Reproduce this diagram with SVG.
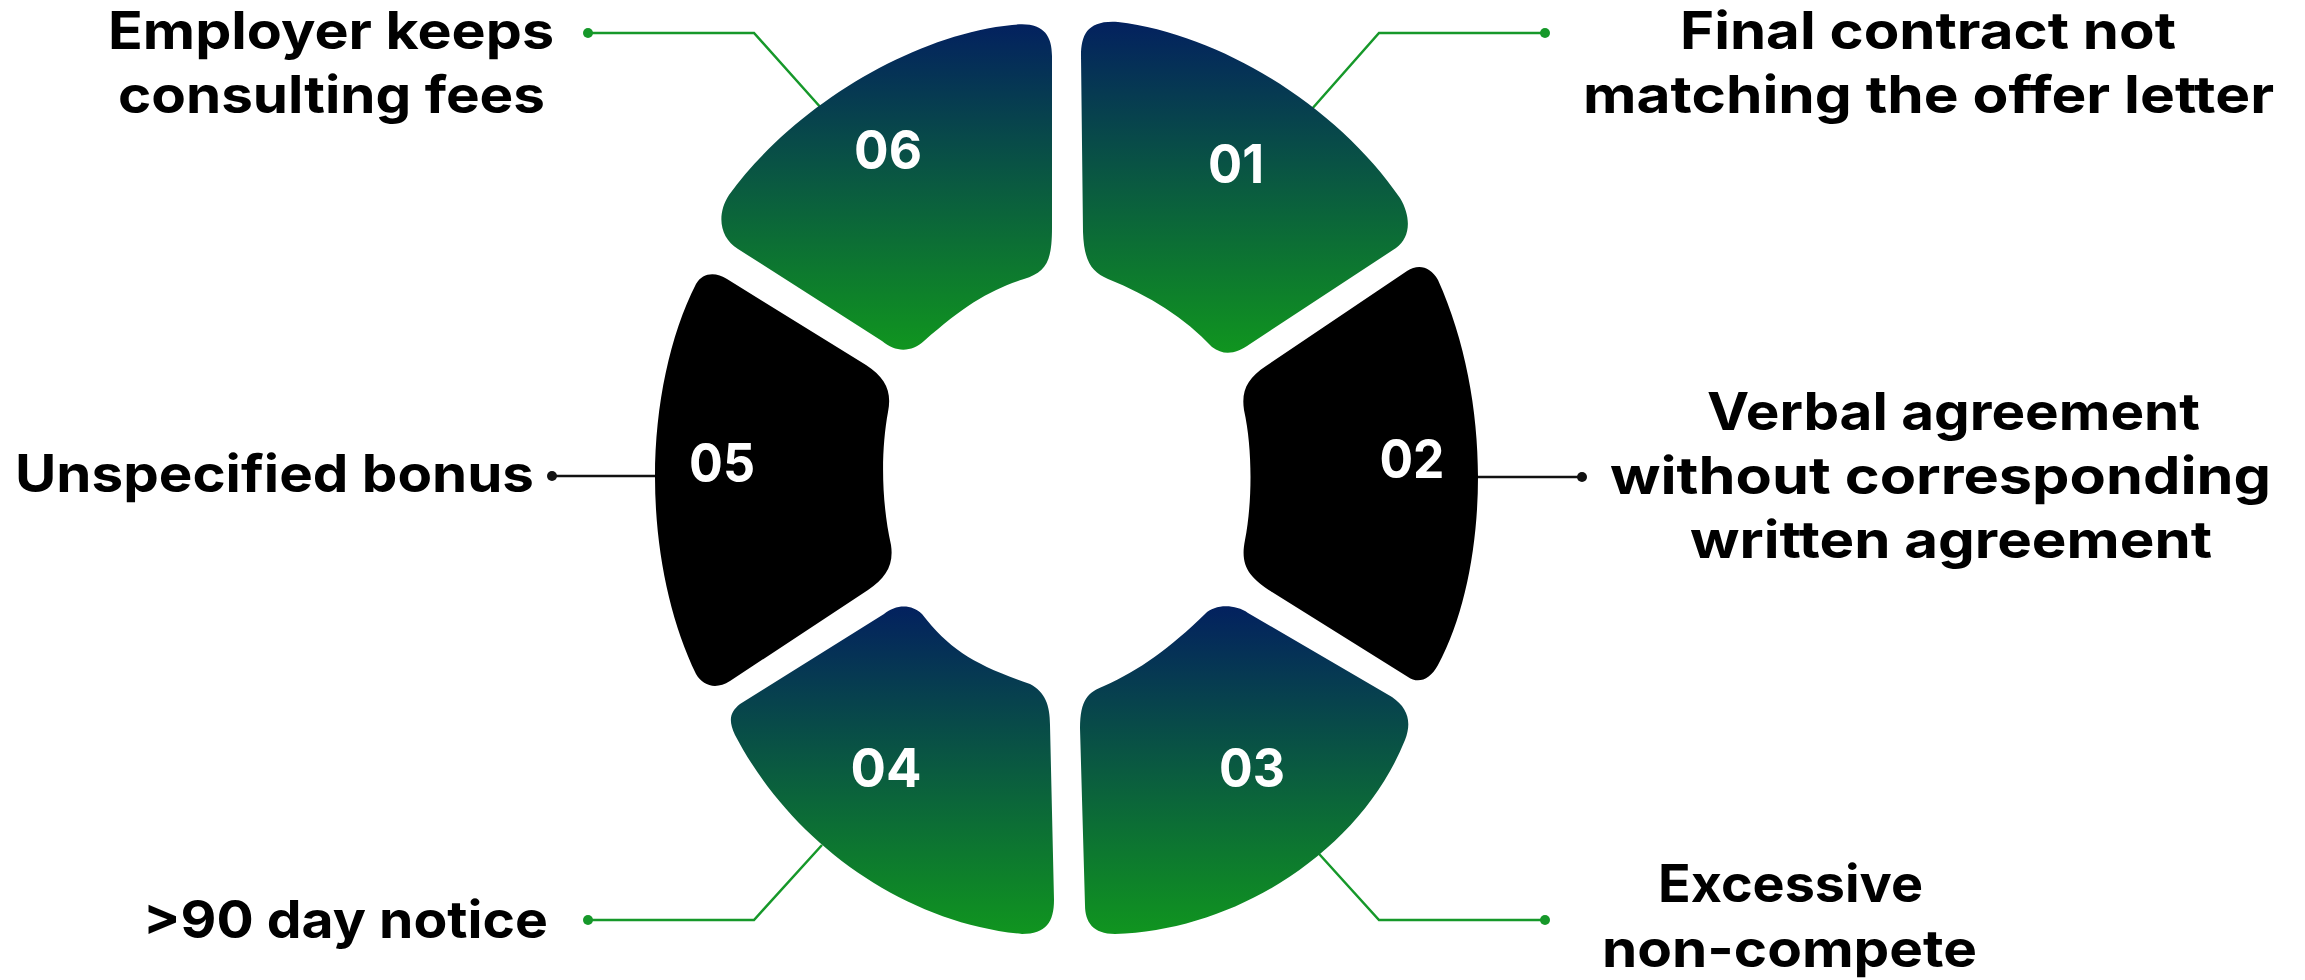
<svg xmlns="http://www.w3.org/2000/svg" width="2305" height="980" viewBox="0 0 2305 980">
  <defs>
    <linearGradient id="petalFill" x1="0" y1="0" x2="0" y2="1">
      <stop offset="0" stop-color="#03215f"/>
      <stop offset="0.5" stop-color="#0a5b40"/>
      <stop offset="1" stop-color="#10951f"/>
    </linearGradient>
    <style>
      .label { font-family: Inter, "Liberation Sans", sans-serif; font-weight: 700; font-size: 52px; fill: #000; }
      .num { font-family: Inter, "Liberation Sans", sans-serif; font-weight: 700; font-size: 54px; fill: #fff; text-anchor: middle; }
      .petal { fill: url(#petalFill); }
      .dark { fill: #000; }
      .link-green { fill: none; stroke: #16982a; stroke-width: 2.5; }
      .link-black { fill: none; stroke: #111; stroke-width: 2.5; }
      .dot-green { fill: #16982a; }
      .dot-black { fill: #111; }
    </style>
  </defs>
  <rect width="2305" height="980" fill="#fff"/>

  <!-- leader lines from each segment to its caption -->
  <g id="connectors">
    <polyline class="link-green" points="588,33 754,33 822,109"/>
    <circle class="dot-green" cx="588" cy="33" r="5"/>
    <polyline class="link-green" points="1545,33 1379,33 1311,110"/>
    <circle class="dot-green" cx="1545" cy="33" r="5"/>
    <line class="link-black" x1="552" y1="476" x2="660" y2="476"/>
    <circle class="dot-black" cx="552" cy="476" r="5"/>
    <line class="link-black" x1="1472" y1="477" x2="1582" y2="477"/>
    <circle class="dot-black" cx="1582" cy="477" r="5"/>
    <polyline class="link-green" points="588,920 754,920 822,845"/>
    <circle class="dot-green" cx="588" cy="920" r="5"/>
    <polyline class="link-green" points="1545,920 1379,920 1311,845"/>
    <circle class="dot-green" cx="1545" cy="920" r="5"/>
  </g>

  <g id="node-01">
    <path class="petal" d="M 1118 22 C 1088 20 1081 34 1081 56 L 1083 232 C 1084 262 1092 272 1108 279 C 1150 296 1185 318 1212 347 C 1224 356 1236 354 1250 344 L 1396 248 C 1410 238 1412 218 1400 198 C 1340 110 1225 35 1118 22 Z"/>
    <text class="num" x="1236" y="183" textLength="56" lengthAdjust="spacingAndGlyphs">01</text>
    <text class="label" x="1680" y="49" textLength="496" lengthAdjust="spacingAndGlyphs">Final contract not</text>
    <text class="label" x="1583" y="113" textLength="691" lengthAdjust="spacingAndGlyphs">matching the offer letter</text>
  </g>

  <g id="node-02">
    <path class="dark" d="M 1407 271 C 1418 264 1430 266 1438 280 C 1465 340 1478 410 1478 477 C 1478 545 1465 615 1438 665 C 1430 680 1418 684 1408 677 L 1272 592 C 1248 577 1240 565 1245 540 C 1252 505 1253 450 1244 410 C 1241 390 1248 378 1266 366 Z"/>
    <text class="num" x="1412" y="478" textLength="65" lengthAdjust="spacingAndGlyphs">02</text>
    <text class="label" x="1707" y="430" textLength="493" lengthAdjust="spacingAndGlyphs">Verbal agreement</text>
    <text class="label" x="1610" y="494" textLength="661" lengthAdjust="spacingAndGlyphs">without corresponding</text>
    <text class="label" x="1690" y="558" textLength="522" lengthAdjust="spacingAndGlyphs">written agreement</text>
  </g>

  <g id="node-03">
    <path class="petal" d="M 1248 613 L 1392 697 C 1408 708 1412 722 1405 740 C 1362 848 1240 930 1115 934 C 1093 934 1085 922 1085 905 L 1080 728 C 1080 700 1088 692 1104 686 C 1140 670 1170 648 1205 614 C 1215 604 1235 604 1248 613 Z"/>
    <text class="num" x="1252" y="787" textLength="66" lengthAdjust="spacingAndGlyphs">03</text>
    <text class="label" x="1658" y="902" textLength="265" lengthAdjust="spacingAndGlyphs">Excessive</text>
    <text class="label" x="1602" y="967" textLength="375" lengthAdjust="spacingAndGlyphs">non-compete</text>
  </g>

  <g id="node-04">
    <path class="petal" d="M 884 614 C 896 604 912 604 922 614 C 950 650 975 665 1030 684 C 1045 692 1050 705 1050 725 L 1054 900 C 1054 922 1046 934 1022 934 C 900 922 790 840 735 735 C 728 720 730 712 740 704 Z"/>
    <text class="num" x="886" y="787" textLength="71" lengthAdjust="spacingAndGlyphs">04</text>
    <text class="label" x="143" y="938" textLength="405" lengthAdjust="spacingAndGlyphs">&gt;90 day notice</text>
  </g>

  <g id="node-05">
    <path class="dark" d="M 727 279 L 866 365 C 886 378 892 392 888 412 C 881 450 881 500 891 545 C 894 565 886 578 868 590 L 730 681 C 716 690 703 686 696 674 C 670 620 655 550 655 477 C 655 405 670 335 696 284 C 703 272 716 272 727 279 Z"/>
    <text class="num" x="722" y="482" textLength="66" lengthAdjust="spacingAndGlyphs">05</text>
    <text class="label" x="15" y="492" textLength="519" lengthAdjust="spacingAndGlyphs">Unspecified bonus</text>
  </g>

  <g id="node-06">
    <path class="petal" d="M 1012 25 C 1042 21 1052 34 1052 56 L 1052 228 C 1052 262 1046 272 1024 279 C 990 290 965 305 924 341 C 912 352 896 353 882 341 L 738 249 C 720 238 716 215 729 195 C 790 110 910 35 1012 25 Z"/>
    <text class="num" x="888" y="169" textLength="68" lengthAdjust="spacingAndGlyphs">06</text>
    <text class="label" x="108" y="49" textLength="446" lengthAdjust="spacingAndGlyphs">Employer keeps</text>
    <text class="label" x="118" y="113" textLength="427" lengthAdjust="spacingAndGlyphs">consulting fees</text>
  </g>
</svg>
